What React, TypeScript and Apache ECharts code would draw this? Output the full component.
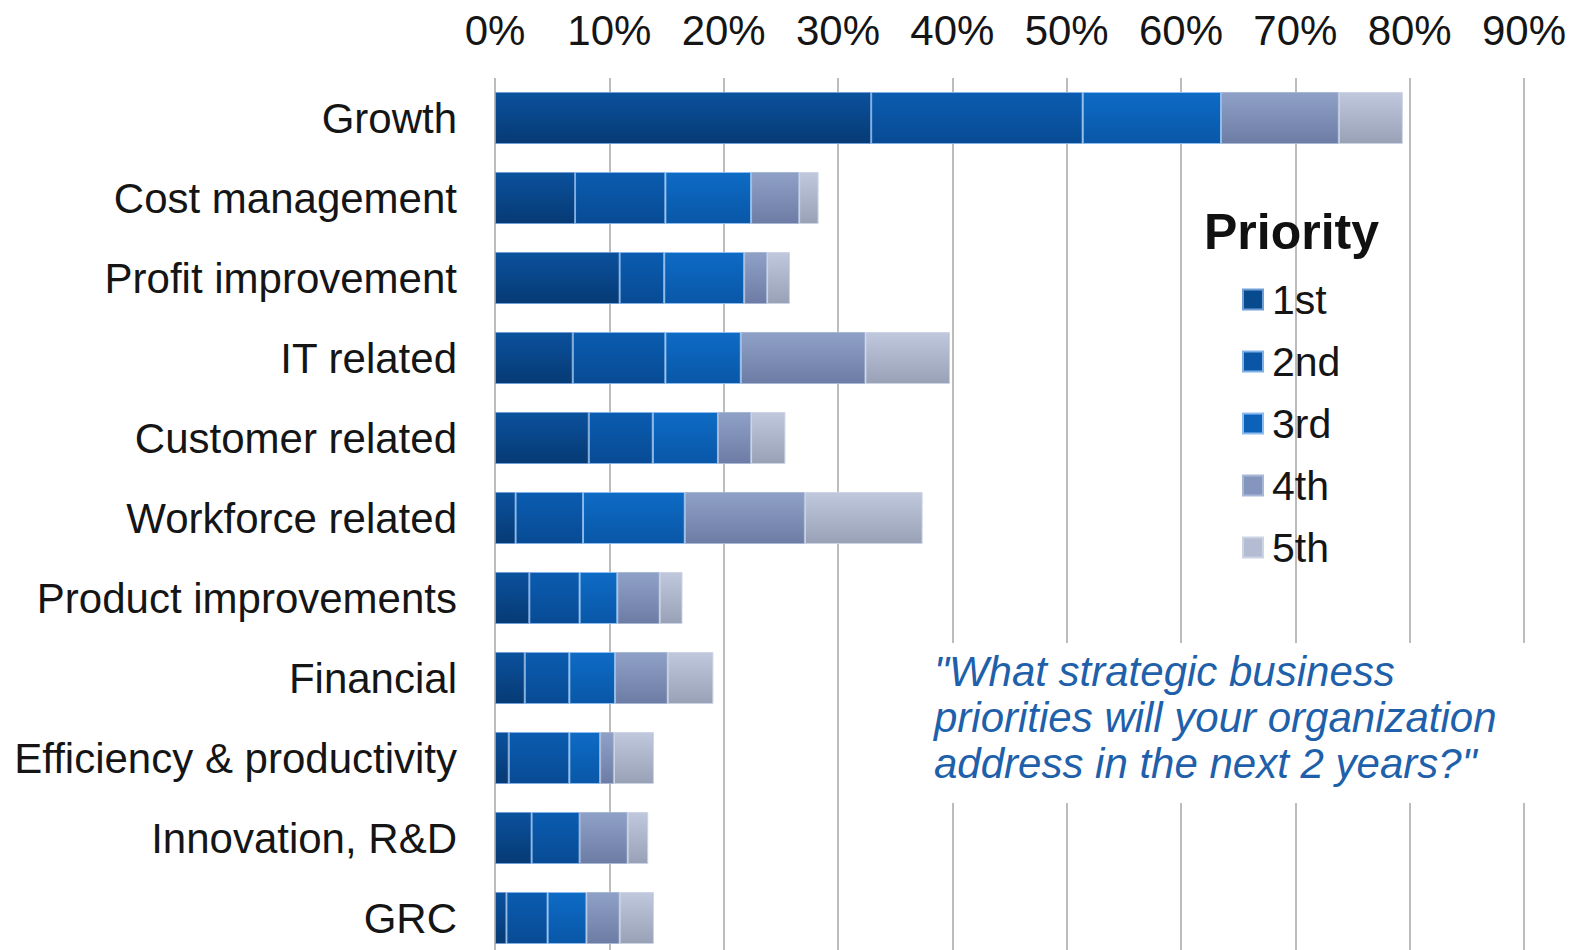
import React, { useEffect, useRef } from "react";
import * as echarts from "echarts";

const categories = [
  "Growth",
  "Cost management",
  "Profit improvement",
  "IT related",
  "Customer related",
  "Workforce related",
  "Product improvements",
  "Financial",
  "Efficiency & productivity",
  "Innovation, R&D",
  "GRC",
];
const seriesNames = ["1st", "2nd", "3rd", "4th", "5th"];
const first = [32.9, 7.0, 10.9, 6.8, 8.2, 1.8, 3.0, 2.6, 1.2, 3.2, 1.0];
const second = [18.5, 7.9, 3.9, 8.1, 5.6, 5.9, 4.4, 3.9, 5.3, 4.2, 3.6];
const third = [12.1, 7.5, 7.0, 6.6, 5.7, 8.9, 3.3, 4.0, 2.7, 0, 3.4];
const fourth = [10.3, 4.2, 2.0, 10.9, 2.9, 10.5, 3.7, 4.6, 1.2, 4.2, 2.9];
const fifth = [5.6, 1.7, 2.0, 7.4, 3.0, 10.3, 2.0, 4.0, 3.5, 1.8, 3.0];
const seriesValues = [first, second, third, fourth, fifth];
const tickValues = [0, 10, 20, 30, 40, 50, 60, 70, 80, 90];

const topColors = ["#0b519d", "#0a5cb0", "#0e6bc4", "#90a1c8", "#bfc8dd"];
const bottomColors = ["#063a74", "#084b94", "#0957a8", "#6c7ca4", "#98a1b6"];
const legendColors = ["#084a8e", "#0a56a6", "#0c62b8", "#8496be", "#b3bcd2"];
const borderColors = ["#6f9fd6", "#7fb0e6", "#8cbcef", "#a9b7d6", "#ccd3e3"];

const FONT = "'Liberation Sans', Arial, Helvetica, sans-serif";

export default function App() {
  const ref = useRef<HTMLDivElement>(null);

  useEffect(() => {
    if (!ref.current) return;
    const chart = echarts.init(ref.current, null, { renderer: "svg" });

    const series = seriesNames.map((name, i) => ({
      name,
      type: "bar",
      stack: "total",
      barWidth: 52,
      data: seriesValues[i],
      itemStyle: {
        color: new echarts.graphic.LinearGradient(0, 0, 0, 1, [
          { offset: 0, color: topColors[i] },
          { offset: 1, color: bottomColors[i] },
        ]),
        borderColor: borderColors[i],
        borderWidth: 1,
      },
    }));

    chart.setOption({
      animation: false,
      backgroundColor: "#ffffff",
      textStyle: { fontFamily: FONT },
      grid: { left: 495, width: 1029, top: 78, height: 880, containLabel: false },
      xAxis: {
        type: "value",
        position: "top",
        min: 0,
        max: 90,
        interval: 10,
        axisLine: { show: false },
        axisTick: { show: false },
        axisLabel: {
          formatter: (v: number) => (tickValues.includes(v) ? v + "%" : ""),
          fontSize: 42,
          color: "#151515",
          fontFamily: FONT,
          margin: 27,
        },
        splitLine: { show: true, lineStyle: { color: "#a6a6a6", width: 1.5 } },
      },
      yAxis: {
        type: "category",
        inverse: true,
        data: categories,
        axisLine: { show: false },
        axisTick: { show: false },
        axisLabel: {
          fontSize: 42,
          color: "#151515",
          fontFamily: FONT,
          margin: 38,
        },
      },
      title: {
        text: "Priority",
        left: 1204,
        top: 207,
        padding: 0,
        textStyle: { fontSize: 50, fontWeight: "bold", color: "#111111", fontFamily: FONT },
      },
      legend: {
        orient: "vertical",
        left: 1242,
        top: 279,
        padding: 0,
        itemWidth: 20,
        itemHeight: 20,
        itemGap: 21,
        icon: "rect",
        data: seriesNames.map((n, i) => ({ name: n, itemStyle: { color: legendColors[i] } })),
        textStyle: {
          fontSize: 41,
          color: "#151515",
          fontFamily: FONT,
          lineHeight: 40,
          padding: [0, 0, 0, 4],
        },
      },
      graphic: [
        {
          type: "rect",
          left: 930,
          top: 643,
          shape: { width: 625, height: 160 },
          style: { fill: "#ffffff" },
          z: 10,
        },
        {
          type: "text",
          left: 934,
          top: 648,
          z: 11,
          style: {
            text:
              "\"What strategic business\npriorities will your organization\naddress in the next 2 years?\"",
            font: `italic 42px ${FONT}`,
            fill: "#1f60aa",
            lineHeight: 46,
          },
        },
      ],
      series,
    });

    return () => chart.dispose();
  }, []);

  return (
    <div
      style={{
        position: "absolute",
        left: 0,
        top: 0,
        width: 1583,
        height: 950,
        overflow: "hidden",
      }}
    >
      <div ref={ref} style={{ width: 1583, height: 960 }} />
    </div>
  );
}
